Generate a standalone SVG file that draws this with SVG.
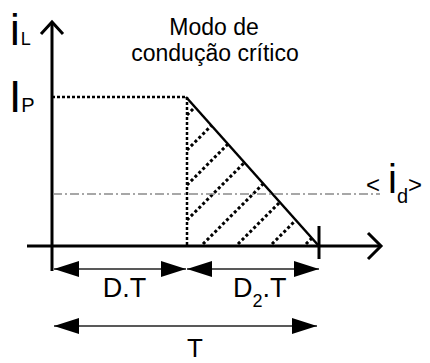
<svg xmlns="http://www.w3.org/2000/svg" width="430" height="363" viewBox="0 0 430 363">
<defs>
<style>
.t{font-family:"Liberation Sans",Arial,sans-serif;fill:#000}
.axis{stroke:#000;stroke-width:3;fill:none}
.dot{stroke:#000;stroke-width:2.5;stroke-dasharray:3 2;fill:none}
.hatch{stroke:#000;stroke-width:3;stroke-dasharray:3 2.5;fill:none}
.dim{stroke:#222;stroke-width:1.5;fill:none}
.avg{stroke:#8a8a8a;stroke-width:1.5;stroke-dasharray:9 3 2 3;fill:none}
</style>
<marker id="ah" viewBox="0 0 25 16" refX="25" refY="8" markerWidth="25" markerHeight="16" markerUnits="userSpaceOnUse" orient="auto-start-reverse">
<path d="M0,0 L25,8 L0,16 Z" fill="#000"/>
</marker>
</defs>
<rect width="430" height="363" fill="#fff"/>
<g id="title">
<text class="t" font-size="23" text-anchor="middle" x="214" y="35">Modo de</text>
<text class="t" font-size="23" text-anchor="middle" x="215" y="61">condução crítico</text>
</g>
<g id="axes">
<path class="axis" d="M52,22 V271"/>
<path class="axis" d="M41,34 L52,22 L63,34"/>
<path class="axis" d="M27,246 H381"/>
<path class="axis" d="M368,233 L381,246 L368,259"/>
<path class="axis" d="M319,226 V259"/>
</g>
<g id="labels">
<text class="t" x="10" y="45"><tspan font-size="44">i</tspan><tspan font-size="18" dx="1">L</tspan></text>
<text class="t" x="9" y="112"><tspan font-size="44">I</tspan><tspan font-size="20">P</tspan></text>
<text class="t" x="366" y="193"><tspan font-size="24">&lt;</tspan><tspan font-size="40" dx="8">i</tspan><tspan font-size="20" dy="10">d</tspan><tspan font-size="24" dy="-10">&gt;</tspan></text>
</g>
<g id="waveform">
<path class="dot" d="M52,97 H186"/>
<path class="dot" d="M187,97 V246"/>
<path class="hatch" d="M187,115 L195,107 M187,150 L211.5,125.5 M187,185 L228,144 M187,220 L244.5,162.5 M203,244 L263.3,183.7 M238,244 L279.8,202.2 M272,244 L295.8,220.2 M306,244 L311.9,238.1"/>
<path d="M186,97 L318,245" stroke="#000" stroke-width="2.5" fill="none"/>
</g>
<g id="average">
<path class="avg" d="M53,194 H380"/>
</g>
<g id="connectors">
<path class="dim" d="M54,269 H186" marker-start="url(#ah)" marker-end="url(#ah)"/>
<path class="dim" d="M187,269 H319" marker-start="url(#ah)" marker-end="url(#ah)"/>
<path class="dim" d="M54,326 H317" marker-start="url(#ah)" marker-end="url(#ah)"/>
</g>
<g id="dim-labels">
<text class="t" font-size="27" text-anchor="middle" x="124.5" y="297">D.T</text>
<text class="t" x="233" y="297"><tspan font-size="27">D</tspan><tspan font-size="18" dy="10">2</tspan><tspan font-size="27" dy="-10">.T</tspan></text>
<text class="t" font-size="26" text-anchor="middle" x="195" y="357">T</text>
</g>
</svg>
